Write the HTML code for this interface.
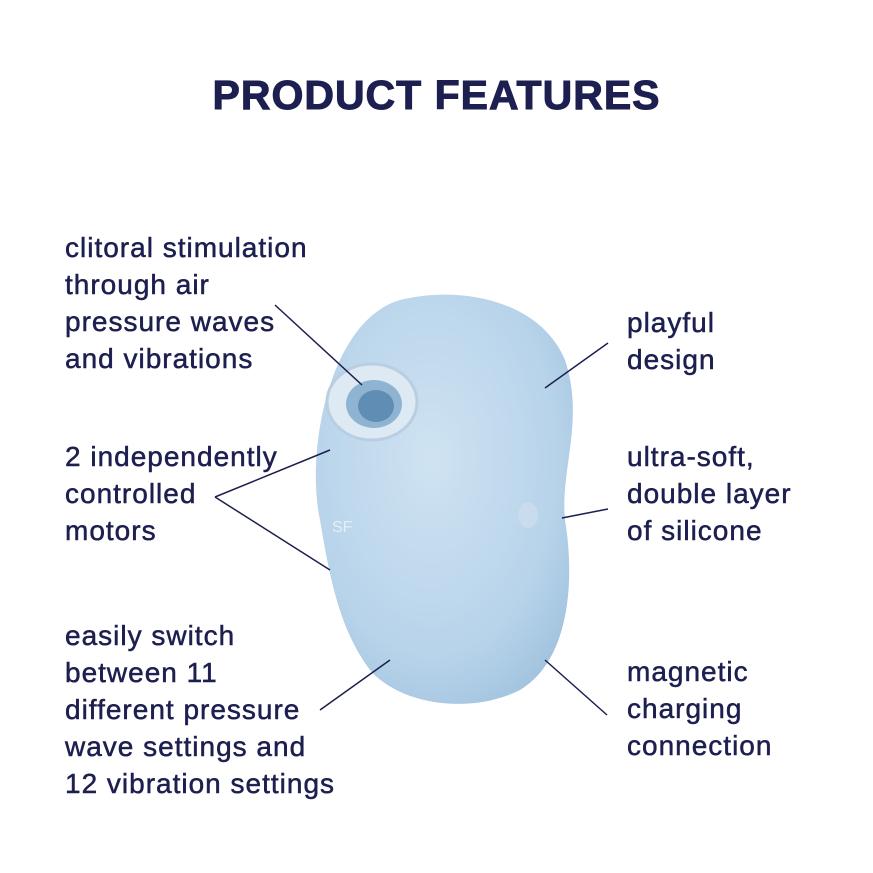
<!DOCTYPE html>
<html><head><meta charset="utf-8"><style>
html,body{margin:0;padding:0;background:#fff;}
body{width:873px;height:873px;position:relative;overflow:hidden;font-family:"Liberation Sans",sans-serif;color:#1c1f4f;}
.t{position:absolute;font-size:28px;line-height:37px;white-space:nowrap;letter-spacing:1px;-webkit-text-stroke:0.5px #1c1f4f;}
h1{position:absolute;left:0;width:873px;top:72px;margin:0;text-align:center;font-size:41px;font-weight:bold;letter-spacing:1px;color:#1c1f4f;-webkit-text-stroke:1px #1c1f4f;}
</style></head><body>
<h1>PRODUCT FEATURES</h1>
<svg width="873" height="873" style="position:absolute;left:0;top:0">
<defs>
<radialGradient id="g" cx="0.45" cy="0.4" r="0.7">
<stop offset="0" stop-color="#cfe3f2"/><stop offset="0.7" stop-color="#b7d3ea"/><stop offset="1" stop-color="#9fc1dd"/></radialGradient>
</defs>
<path d="M400 300 C460 285 540 300 565 360 C585 420 560 470 565 520 C575 580 570 660 520 690 C470 715 400 705 370 670 C340 630 330 580 320 520 C305 450 330 320 400 300 Z" fill="url(#g)"/>
<ellipse cx="372" cy="402" rx="45" ry="38" fill="#dde9f3" stroke="#b9cfe1" stroke-width="3"/>
<ellipse cx="374" cy="404" rx="28" ry="24" fill="#8fb4d2"/>
<ellipse cx="376" cy="406" rx="18" ry="16" fill="#5f8db3"/>
<ellipse cx="528" cy="515" rx="10" ry="13" fill="#c8dced"/>
<text x="332" y="532" font-size="16" fill="#e5eff7" font-family="Liberation Sans">SF</text>
<g stroke="#1c1f4f" stroke-width="1.5" fill="none">
<line x1="275" y1="305" x2="362" y2="385"/>
<line x1="215" y1="497" x2="330" y2="450"/>
<line x1="215" y1="497" x2="330" y2="570"/>
<line x1="320" y1="710" x2="390" y2="660"/>
<line x1="608" y1="343" x2="545" y2="388"/>
<line x1="608" y1="509" x2="562" y2="518"/>
<line x1="607" y1="715" x2="545" y2="660"/>
</g>
</svg>
<div class="t" style="left:65px;top:229px">clitoral stimulation<br>through air<br>pressure waves<br>and vibrations</div>
<div class="t" style="left:65px;top:438px">2 independently<br>controlled<br>motors</div>
<div class="t" style="left:65px;top:617px">easily switch<br>between 11<br>different pressure<br>wave settings and<br>12 vibration settings</div>
<div class="t" style="left:627px;top:304px">playful<br>design</div>
<div class="t" style="left:627px;top:438px">ultra-soft,<br>double layer<br>of silicone</div>
<div class="t" style="left:627px;top:653px">magnetic<br>charging<br>connection</div>
</body></html>
